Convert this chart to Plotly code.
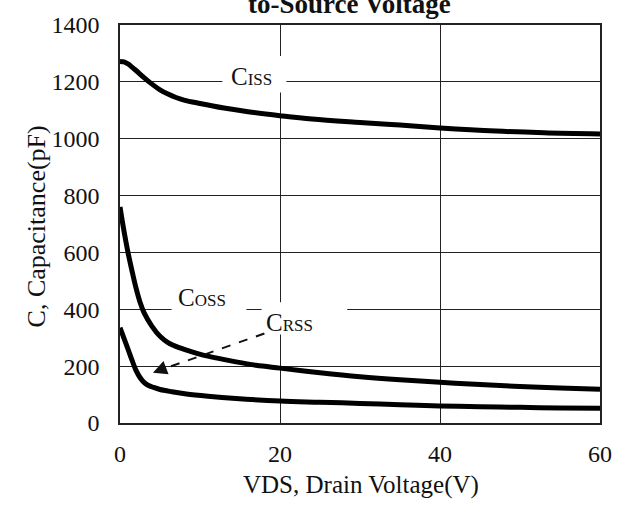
import plotly.graph_objects as go

# Capacitance vs drain-source voltage (pF over V)
vds_ciss = [0, 0.5, 1, 1.5, 2, 3, 4, 5, 6, 7, 8, 10, 13, 16, 20, 24, 30, 35, 40, 47, 53, 60]
ciss = [1272, 1270, 1263, 1252, 1240, 1215, 1192, 1172, 1157, 1145, 1136, 1124, 1108, 1095, 1081, 1069, 1057, 1048, 1038, 1027, 1021, 1017]

vds_coss = [0, 0.5, 1, 1.5, 2, 2.5, 3, 4, 5, 6, 7.5, 9, 10.4, 12, 14.5, 17, 20, 25, 30, 35, 40, 45, 50, 55, 60]
coss = [760, 675, 600, 535, 475, 425, 388, 340, 305, 283, 264, 250, 239, 229, 215, 203, 193, 177, 163, 152, 143, 135, 128, 123, 119]

vds_crss = [0, 0.5, 1, 1.5, 2, 2.5, 3, 3.5, 4.2, 5, 6.5, 8.3, 11, 14.5, 20, 25, 30, 35, 40, 45, 50, 55, 60]
crss = [335, 298, 260, 221, 185, 160, 143, 133, 125, 118, 110, 102, 94, 86, 77, 73, 69, 64, 60, 57, 55, 53, 52]

x_ticks = [0, 20, 40, 60]
y_ticks = [0, 200, 400, 600, 800, 1000, 1200, 1400]

FONT = "Liberation Serif"
INK = "#111111"

fig = go.Figure()
for xs, ys, name in [(vds_ciss, ciss, "Ciss"), (vds_coss, coss, "Coss"), (vds_crss, crss, "Crss")]:
    fig.add_trace(go.Scatter(
        x=xs, y=ys, name=name, mode="lines",
        line=dict(color="black", width=5, shape="spline", smoothing=1.0),
        showlegend=False, hoverinfo="skip",
    ))

# white label boxes that interrupt the grid
label_boxes = [
    (12.8, 20.8, 1163, 1291),
    (6.45, 15.8, 380, 494),
    (17.7, 28.4, 311, 425),
]
for x0, x1, y0, y1 in label_boxes:
    fig.add_shape(type="rect", x0=x0, x1=x1, y0=y0, y1=y1, xref="x", yref="y",
                  fillcolor="white", line=dict(width=0), layer="between")

labels = [
    ("C<span style='font-size:17px'>ISS</span>", 16.4, 1219),
    ("C<span style='font-size:17px'>OSS</span>", 10.2, 442),
    ("C<span style='font-size:17px'>RSS</span>", 21.2, 352),
]
annotations = []
for txt, lx, ly in labels:
    annotations.append(dict(text=txt, x=lx, y=ly, xref="x", yref="y", showarrow=False,
                            font=dict(family=FONT, size=25, color=INK),
                            xanchor="center", yanchor="middle"))

# dashed pointer from the Crss label to its curve
arrow_tail = (18.05, 315)
arrow_tip = (4.12, 177)
fig.add_shape(type="line", x0=arrow_tail[0], y0=arrow_tail[1], x1=arrow_tip[0] + 1.2, y1=arrow_tip[1] + 12,
              xref="x", yref="y", line=dict(color=INK, width=2, dash="dash"), layer="above")
annotations.append(dict(x=arrow_tip[0], y=arrow_tip[1], xref="x", yref="y",
                        ax=13, ay=-5, axref="pixel", ayref="pixel", text="",
                        showarrow=True, arrowhead=2, arrowsize=1.4, arrowwidth=2, arrowcolor=INK))

# chart title (its first line runs off the top edge)
annotations.append(dict(text="<b>to-Source Voltage</b>", x=0.4775, y=1.010, xref="paper", yref="paper",
                        xanchor="center", yanchor="bottom", showarrow=False,
                        font=dict(family=FONT, size=27, color=INK)))
# axis titles
annotations.append(dict(text="VDS, Drain Voltage(V)", x=0.502, y=-0.157, xref="paper", yref="paper",
                        xanchor="center", yanchor="middle", showarrow=False,
                        font=dict(family=FONT, size=25, color=INK)))
annotations.append(dict(text="C, Capacitance(pF)", x=-0.172, y=0.495, xref="paper", yref="paper",
                        xanchor="center", yanchor="middle", textangle=-90, showarrow=False,
                        font=dict(family=FONT, size=26, color=INK)))

axis_common = dict(showgrid=True, gridcolor="#222222", gridwidth=1.3, zeroline=False,
                   showline=True, linecolor="#222222", linewidth=1.5, mirror=True,
                   ticks="", tickfont=dict(family=FONT, size=24, color=INK))

fig.update_layout(
    width=624, height=505,
    margin=dict(l=120, r=23, t=19, b=82),
    paper_bgcolor="white", plot_bgcolor="white",
    xaxis=dict(range=[0, 60], tickvals=x_ticks, ticklabelstandoff=8, **axis_common),
    yaxis=dict(range=[0, 1400], tickvals=y_ticks, ticklabelstandoff=14, **axis_common),
    annotations=annotations,
)

fig.write_html("out.html")
